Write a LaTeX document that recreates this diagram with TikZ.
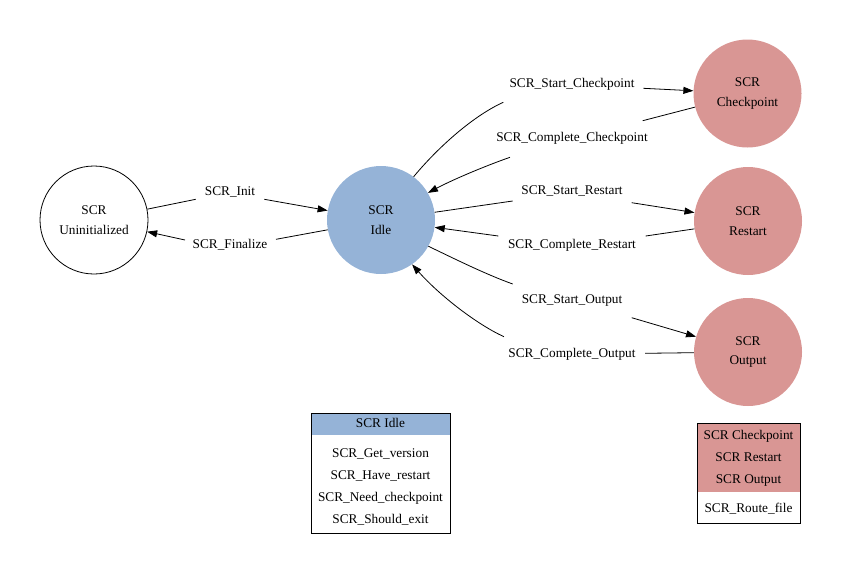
\documentclass[tikz,border=0pt]{standalone}
\usepackage{fontspec}
\setmainfont{Liberation Serif}
\usetikzlibrary{arrows.meta}
\definecolor{idleblue}{RGB}{149,179,215}
\definecolor{statepink}{RGB}{217,150,148}
\begin{document}
\begin{tikzpicture}[x=1pt,y=-1pt,
  every node/.style={font=\fontsize{13.3}{19.5}\selectfont, text=black},
  state/.style={circle, minimum size=108pt, inner sep=0pt, align=center},
  lbl/.style={inner sep=1pt, text height=9.5pt, text depth=3pt},
  row/.style={inner sep=0pt, text height=9.5pt, text depth=3pt},
  edge/.style={line width=0.8pt},
  arr/.style={edge, -{Triangle[length=10pt,width=7pt]}},
  boxframe/.style={draw, line width=0.8pt, inner sep=0pt, anchor=north west}
]
\useasboundingbox (0,0) rectangle (842,573);

% states
\node[state, draw, line width=0.8pt] (uninit) at (94,220) {SCR\\Uninitialized};
\node[state, fill=idleblue] (idle) at (381,220) {SCR\\Idle};
\node[state, fill=statepink] (ckpt) at (747.5,93.5) {SCR\\Checkpoint};
\node[state, fill=statepink] (rst) at (748,221) {SCR\\Restart};
\node[state, fill=statepink] (out) at (748,352) {SCR\\Output};

% transition labels
\node[lbl] (lInit) at (230,192.5) {SCR\_Init};
\node[lbl] (lFin) at (230,245.5) {SCR\_Finalize};
\node[lbl] (lSC) at (572,84.5) {SCR\_Start\_Checkpoint};
\node[lbl] (lCC) at (572,138.5) {SCR\_Complete\_Checkpoint};
\node[lbl] (lSR) at (572,191) {SCR\_Start\_Restart};
\node[lbl] (lCR) at (572,245.5) {SCR\_Complete\_Restart};
\node[lbl] (lSO) at (572,300) {SCR\_Start\_Output};
\node[lbl] (lCO) at (572,354) {SCR\_Complete\_Output};

% break points where each transition passes its label
\coordinate (iA) at (195.7,199.3);  \coordinate (iB) at (264.3,199.3);
\coordinate (fA) at (276,239.3);    \coordinate (fB) at (185,240);
\coordinate (scA) at (503.3,102.3); \coordinate (scB) at (643.3,88.3);
\coordinate (ccA) at (642.7,120.7); \coordinate (ccB) at (510,157.3);
\coordinate (srA) at (512.7,201);   \coordinate (srB) at (631.7,202.7);
\coordinate (crA) at (645.7,236);   \coordinate (crB) at (498.3,236);
\coordinate (soA) at (512.7,284);   \coordinate (soB) at (631.7,317.7);
\coordinate (coA) at (645,353.3);   \coordinate (coB) at (504,336.7);

% transitions
\draw[edge] (uninit) -- (iA);  \draw[arr] (iB) -- (idle);
\draw[edge] (idle) -- (fA);    \draw[arr] (fB) -- (uninit);
\draw[edge] (idle.53) .. controls (440,145) and (475,115) .. (scA);
\draw[arr] (scB) -- (ckpt);
\draw[edge] (ckpt) -- (ccA);
\draw[arr] (ccB) .. controls (485,166) and (452,180) .. (idle.30);
\draw[edge] (idle) -- (srA);   \draw[arr] (srB) -- (rst);
\draw[edge] (rst) -- (crA);    \draw[arr] (crB) -- (idle);
\draw[edge] (idle.-29) .. controls (455,259) and (485,274) .. (soA);
\draw[arr] (soB) -- (out);
\draw[edge] (out) -- (coA);
\draw[arr] (coB) .. controls (478,325) and (440,296) .. (idle.-55);

% legend: functions callable in the idle state
\node[fill=idleblue, minimum width=139pt, minimum height=22pt, inner sep=0pt, anchor=north west] (idlehead) at (311,413) {};
\node[row] (idletitle) at (380.5,424.5) {SCR Idle};
\node[boxframe, minimum width=139pt, minimum height=120pt] (idlebox) at (311,413) {};
\node[row] (fGV) at (380.5,454.5) {SCR\_Get\_version};
\node[row] (fHR) at (380.5,476.5) {SCR\_Have\_restart};
\node[row] (fNC) at (380.5,498.5) {SCR\_Need\_checkpoint};
\node[row] (fSE) at (380.5,520.5) {SCR\_Should\_exit};

% legend: functions callable in the checkpoint/restart/output states
\node[fill=statepink, minimum width=103pt, minimum height=69pt, inner sep=0pt, anchor=north west] (busyhead) at (697,423) {};
\node[boxframe, minimum width=103pt, minimum height=100pt] (busybox) at (697,423) {};
\node[row] (tC) at (748.5,436.5) {SCR Checkpoint};
\node[row] (tR) at (748.5,458.5) {SCR Restart};
\node[row] (tO) at (748.5,480.5) {SCR Output};
\node[row] (fRF) at (748.5,509.5) {SCR\_Route\_file};
\end{tikzpicture}
\end{document}
